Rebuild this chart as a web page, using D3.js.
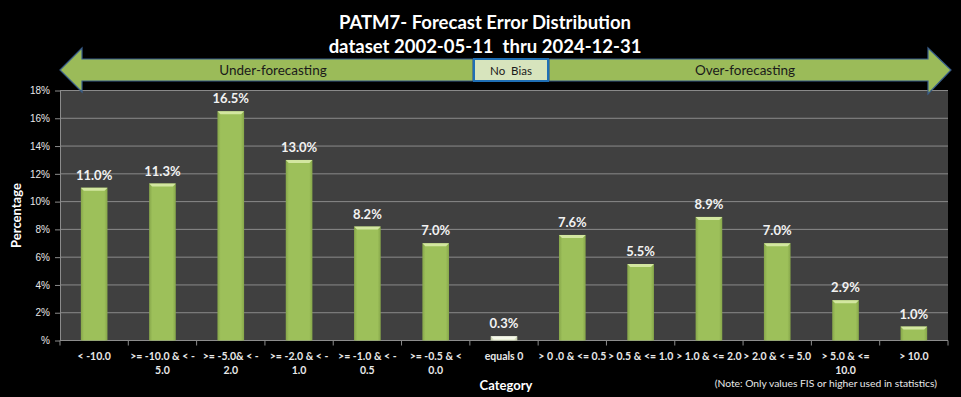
<!DOCTYPE html>
<html>
<head>
<meta charset="utf-8">
<script src="https://cdn.jsdelivr.net/npm/d3@7"></script>
<style>
  body { margin: 0; background: #000; }
  svg { display: block; font-family: Lato, "Open Sans", sans-serif; }
  .axis path, .axis line { stroke: #8c8c8c; }
  .axis text { fill: #e8e8e8; }
</style>
</head>
<body>
<div id="chart"></div>
<script>
// Data
var categories = [
  ["< -10.0"],
  [">= -10.0 & < -", "5.0"],
  [">= -5.0& < -", "2.0"],
  [">= -2.0 & < -", "1.0"],
  [">= -1.0 & < -", "0.5"],
  [">= -0.5 & <", "0.0"],
  ["equals 0"],
  ["> 0 .0 & <= 0.5"],
  ["> 0.5 & <= 1.0"],
  ["> 1.0 & <= 2.0"],
  ["> 2.0 & < = 5.0"],
  ["> 5.0 & <=", "10.0"],
  ["> 10.0"]
];
var values = [11.0, 11.3, 16.5, 13.0, 8.2, 7.0, 0.3, 7.6, 5.5, 8.9, 7.0, 2.9, 1.0];
var yTicks = [0, 2, 4, 6, 8, 10, 12, 14, 16, 18];
var titleLines = ["PATM7- Forecast Error Distribution", "dataset 2002-05-11  thru 2024-12-31"];

var W = 961, H = 397;
var margin = {top: 90.5, right: 13, bottom: 56.5, left: 60},
    width = W - margin.left - margin.right,
    height = H - margin.top - margin.bottom;

var svg = d3.select("#chart").append("svg")
    .attr("width", W)
    .attr("height", H)
    .attr("xml:space", "preserve");

var defs = svg.append("defs");
function barGradient(id, edge, mid) {
  var g = defs.append("linearGradient").attr("id", id)
      .attr("x1", "0").attr("x2", "1").attr("y1", "0").attr("y2", "0");
  g.append("stop").attr("offset", "0").attr("stop-color", edge);
  g.append("stop").attr("offset", "0.12").attr("stop-color", mid);
  g.append("stop").attr("offset", "0.88").attr("stop-color", mid);
  g.append("stop").attr("offset", "1").attr("stop-color", edge);
}
barGradient("barGreen", "#86a64a", "#9dc05a");
barGradient("barPale", "#c2cca6", "#e6edd0");

var x = d3.scaleBand()
    .domain(d3.range(categories.length))
    .range([0, width])
    .paddingInner(0.61)
    .paddingOuter(0.305);

var y = d3.scaleLinear()
    .domain([0, 18])
    .range([height, 0]);

var g = svg.append("g")
    .attr("transform", "translate(" + margin.left + "," + margin.top + ")");

// plot background
g.append("rect")
    .attr("width", width)
    .attr("height", height)
    .attr("fill", "#404040");

// gridlines
g.append("g")
  .selectAll("line")
  .data(yTicks.slice(1))
  .enter().append("line")
    .attr("x1", 0).attr("x2", width)
    .attr("y1", function(d) { return y(d); })
    .attr("y2", function(d) { return y(d); })
    .attr("stroke", "#8a8a8a")
    .attr("stroke-width", 1);

// y axis
var yAxis = g.append("g")
    .attr("class", "axis")
    .call(d3.axisLeft(y).tickValues(yTicks).tickSize(5).tickSizeOuter(0)
      .tickFormat(function(d) { return d === 0 ? "%" : d + "%"; }));
yAxis.selectAll("text").style("font-size", "10px").attr("x", -10);

// x axis with ticks on the band boundaries
var xAxisG = g.append("g")
    .attr("class", "axis")
    .attr("transform", "translate(0," + height + ")");
xAxisG.append("line")
    .attr("x1", 0).attr("x2", width)
    .attr("stroke", "#8c8c8c");
xAxisG.selectAll(".tick")
  .data(d3.range(categories.length + 1))
  .enter().append("line")
    .attr("x1", function(i) { return i * x.step(); })
    .attr("x2", function(i) { return i * x.step(); })
    .attr("y1", 0).attr("y2", 5)
    .attr("stroke", "#8c8c8c");

xAxisG.selectAll(".cat")
  .data(categories)
  .enter().append("text")
    .attr("class", "cat")
    .attr("text-anchor", "middle")
    .attr("x", function(d, i) { return x(i) + x.bandwidth() / 2; })
    .attr("y", 19)
    .style("font-size", "10.5px")
    .style("font-weight", "bold")
    .attr("fill", "#eeeeee")
  .selectAll("tspan")
  .data(function(d) { return d; })
  .enter().append("tspan")
    .attr("x", function() { return this.parentNode.getAttribute("x"); })
    .attr("dy", function(d, j) { return j === 0 ? 0 : 14; })
    .text(function(d) { return d; });

// bars
var bar = g.append("g")
  .selectAll(".bar")
  .data(values)
  .enter().append("g")
    .attr("class", "bar");

bar.append("rect")
    .attr("x", function(d, i) { return x(i); })
    .attr("y", function(d) { return y(d); })
    .attr("width", x.bandwidth())
    .attr("height", function(d) { return height - y(d); })
    .attr("fill", function(d, i) { return i === 6 ? "url(#barPale)" : "url(#barGreen)"; });

// bevelled top edge
bar.append("polygon")
    .attr("points", function(d, i) {
      var x0 = x(i), x1 = x0 + x.bandwidth(), t = y(d), b = 3;
      return [[x0, t], [x1, t], [x1 - b, t + b], [x0 + b, t + b]].join(" ");
    })
    .attr("fill", function(d, i) { return i === 6 ? "#f6f9ea" : "#d3e7a0"; });

// data labels
bar.append("text")
    .attr("text-anchor", "middle")
    .attr("x", function(d, i) { return x(i) + x.bandwidth() / 2; })
    .attr("y", function(d) { return y(d) - 8; })
    .attr("fill", "#f2f2f2")
    .style("font-size", "13px")
    .style("font-weight", "bold")
    .text(function(d) { return d.toFixed(1) + "%"; });

// axis titles
svg.append("text")
    .attr("transform", "translate(21," + (margin.top + height / 2) + ") rotate(-90)")
    .attr("text-anchor", "middle")
    .attr("fill", "#ffffff")
    .style("font-size", "13px")
    .style("font-weight", "bold")
    .text("Percentage");

svg.append("text")
    .attr("x", 506)
    .attr("y", 390)
    .attr("text-anchor", "middle")
    .attr("fill", "#ffffff")
    .style("font-size", "13px")
    .style("font-weight", "bold")
    .text("Category");

svg.append("text")
    .attr("x", 937)
    .attr("y", 387)
    .attr("text-anchor", "end")
    .attr("fill", "#e8e8e8")
    .style("font-size", "10.3px")
    .text("(Note: Only values FIS or higher used in statistics)");

// title
svg.append("g")
  .selectAll("text")
  .data(titleLines)
  .enter().append("text")
    .attr("x", 485)
    .attr("y", function(d, i) { return 29 + i * 24; })
    .attr("text-anchor", "middle")
    .attr("fill", "#ffffff")
    .style("font-size", "18.5px")
    .style("font-weight", "bold")
    .style("white-space", "pre")
    .text(function(d) { return d; });

// bias arrows
var arrows = svg.append("g");
var sTop = 59, sBot = 81, mid = 70;
arrows.append("polygon")
    .attr("points", [[60, mid], [82, 48], [82, sTop], [473, sTop], [473, sBot], [82, sBot], [82, 92]].join(" "))
    .attr("fill", "#9bbb59")
    .attr("stroke", "#385d8a")
    .attr("stroke-width", 1.2);
arrows.append("polygon")
    .attr("points", [[549, sTop], [928, sTop], [928, 48], [951, mid], [928, 94], [928, sBot], [549, sBot]].join(" "))
    .attr("fill", "#9bbb59")
    .attr("stroke", "#385d8a")
    .attr("stroke-width", 1.2);
arrows.append("rect")
    .attr("x", 474).attr("y", sTop)
    .attr("width", 74).attr("height", sBot - sTop)
    .attr("fill", "#d7e4bd")
    .attr("stroke", "#1f6fb5")
    .attr("stroke-width", 2);

var arrowLabels = [["Under-forecasting", 273, "13.5px"], ["No  Bias", 511, "11.5px"], ["Over-forecasting", 745, "13.5px"]];
arrows.selectAll(".lbl")
  .data(arrowLabels)
  .enter().append("text")
    .attr("class", "lbl")
    .attr("x", function(d) { return d[1]; })
    .attr("y", mid + 4.5)
    .attr("text-anchor", "middle")
    .attr("fill", "#1a1a1a")
    .style("font-size", function(d) { return d[2]; })
    .style("white-space", "pre")
    .text(function(d) { return d[0]; });
</script>
</body>
</html>
